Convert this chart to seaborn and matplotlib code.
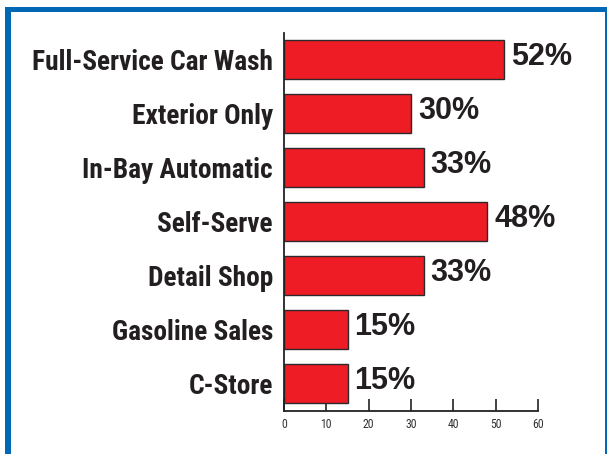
import matplotlib
matplotlib.use("Agg")
import matplotlib.pyplot as plt
from matplotlib import font_manager
from matplotlib.patches import Rectangle
import pandas as pd
import seaborn as sns

categories = [
    "Full-Service Car Wash",
    "Exterior Only",
    "In-Bay Automatic",
    "Self-Serve",
    "Detail Shop",
    "Gasoline Sales",
    "C-Store",
]
shares = [52, 30, 33, 48, 33, 15, 15]
x_ticks = [0, 10, 20, 30, 40, 50, 60]

sns.set_theme(style="white")

installed = {f.name for f in font_manager.fontManager.ttflist}
narrow = next((n for n in ["Liberation Sans Narrow", "Roboto Condensed", "Roboto", "Liberation Sans"]
               if n in installed), "DejaVu Sans")
plt.rcParams["font.family"] = [narrow, "DejaVu Sans"]

df = pd.DataFrame({"category": categories, "share": shares})

W, H = 608, 454
fig = plt.figure(figsize=(W / 100, H / 100), dpi=100)
ax = fig.add_axes([284 / W, 1 - 411 / H, (538 - 284) / W, (411 - 33) / H])

sns.barplot(data=df, x="share", y="category", orient="h", ax=ax,
            color="#ee1c25", saturation=1, width=0.72,
            edgecolor="#2b2b2b", linewidth=1.0)

ax.set_xlim(0, 60)
ax.set_ylim(6.51, -0.49)
ax.set_xticks(x_ticks)
ax.set_xticklabels([str(t) for t in x_ticks], fontsize=8.5, color="#333333",
                   family=[narrow, "DejaVu Sans"])
ax.tick_params(axis="x", direction="in", length=9, width=1.2, color="#222222", pad=5,
               bottom=True)
ax.tick_params(axis="y", length=0, pad=8)
for lab in ax.get_yticklabels():
    lab.set_fontsize(19.7)
    lab.set_fontweight("bold")
    lab.set_color("#231f20")
ax.set_xlabel("")
ax.set_ylabel("")

for s in ["top", "right"]:
    ax.spines[s].set_visible(False)
for s in ["left", "bottom"]:
    ax.spines[s].set_color("#222222")
    ax.spines[s].set_linewidth(1.3)

for i, v in enumerate(shares):
    ax.annotate(f"{v}%", xy=(v, i), xytext=(5, 1.5), textcoords="offset points",
                ha="left", va="center", fontsize=22, fontweight="bold",
                color="#231f20", family=["Liberation Sans", "DejaVu Sans"])

# blue frame around the panel
blue = "#0068b4"
for x0, y0, w, h in [(5, 7, 6, H - 7), (5, 7, 602, 5), (605, 7, 2, H - 7)]:
    fig.patches.append(Rectangle((x0 / W, 1 - (y0 + h) / H), w / W, h / H,
                                 transform=fig.transFigure, facecolor=blue,
                                 edgecolor="none", zorder=10))

fig.savefig("out.png", dpi=100)
